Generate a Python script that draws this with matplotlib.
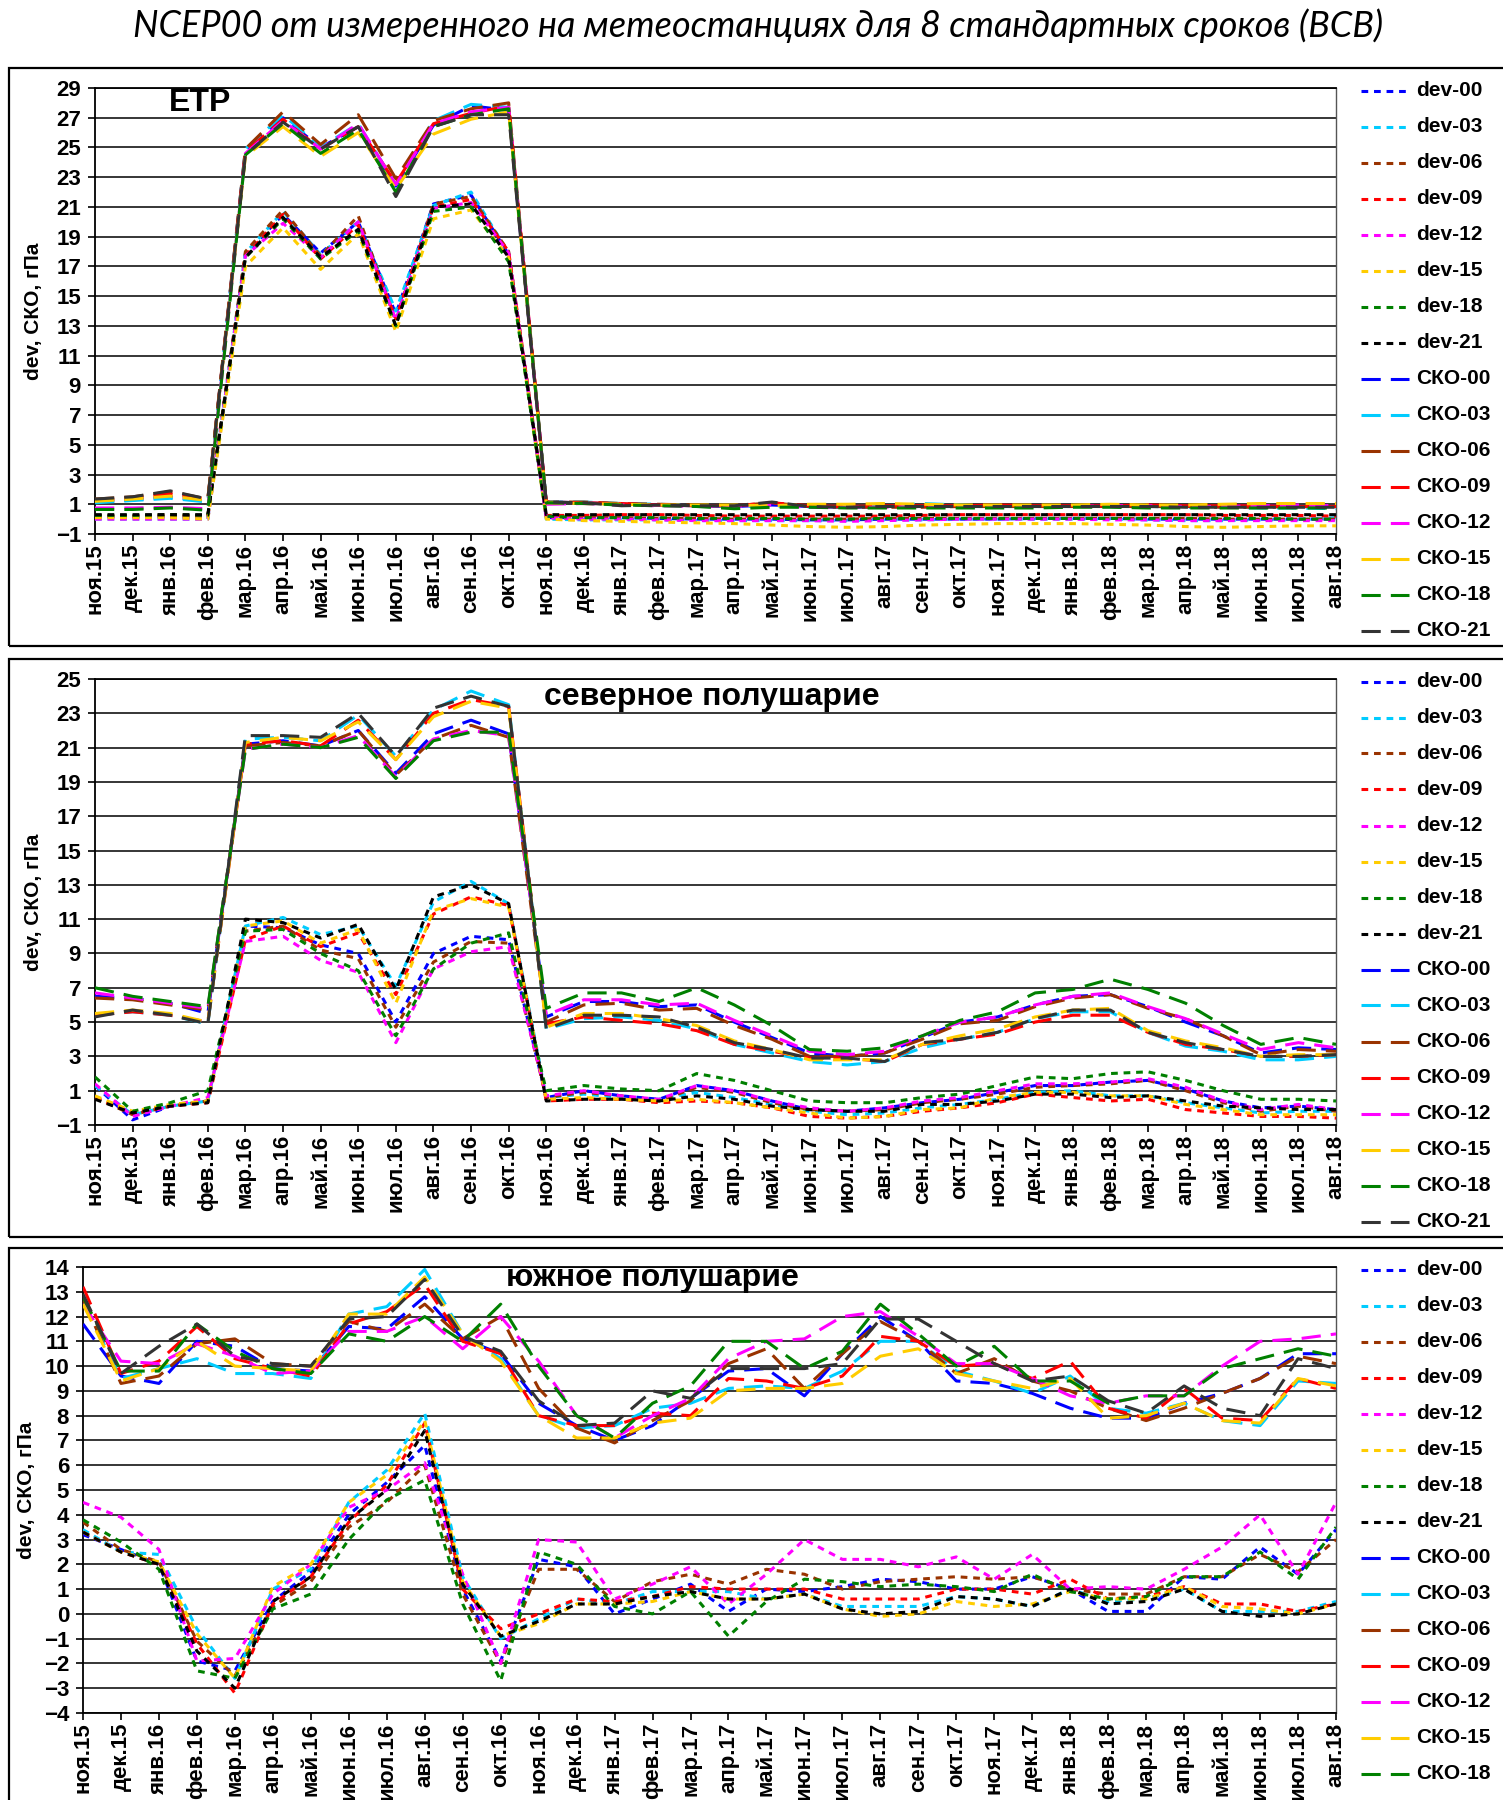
import matplotlib
matplotlib.use("Agg")
import matplotlib.pyplot as plt
from matplotlib.lines import Line2D
from matplotlib.patches import Rectangle

# ---------------- data ----------------
x_labels = ['ноя.15', 'дек.15', 'янв.16', 'фев.16', 'мар.16', 'апр.16', 'май.16', 'июн.16',
            'июл.16', 'авг.16', 'сен.16', 'окт.16', 'ноя.16', 'дек.16', 'янв.17', 'фев.17',
            'мар.17', 'апр.17', 'май.17', 'июн.17', 'июл.17', 'авг.17', 'сен.17', 'окт.17',
            'ноя.17', 'дек.17', 'янв.18', 'фев.18', 'мар.18', 'апр.18', 'май.18', 'июн.18',
            'июл.18', 'авг.18']

series_names = ['dev-00', 'dev-03', 'dev-06', 'dev-09', 'dev-12', 'dev-15', 'dev-18', 'dev-21',
                'СКО-00', 'СКО-03', 'СКО-06', 'СКО-09', 'СКО-12', 'СКО-15', 'СКО-18', 'СКО-21']
series_colors = ['#0000FF', '#00CCFF', '#993300', '#FF0000', '#FF00FF', '#FFCC00', '#008000', '#000000',
                 '#0000FF', '#00CCFF', '#993300', '#FF0000', '#FF00FF', '#FFCC00', '#008000', '#333333']

panel_titles = ['ЕТР', 'северное полушарие', 'южное полушарие']

# ETR
etr_dev_00 = [0.15, 0.15, 0.15, 0.1, 17.8, 20.5, 17.9, 20.0, 13.8, 21.2, 21.8, 17.8, 0.1, 0.1, 0.1, 0.05, 0.0, 0.0, 0.0, -0.05, -0.05, 0.0, 0.0, 0.0, 0.0, 0.05, 0.05, 0.05, 0.0, 0.0, 0.0, 0.0, 0.0, 0.0]
etr_dev_03 = [0.0, 0.0, 0.0, 0.0, 17.9, 20.7, 17.8, 20.0, 14.0, 21.1, 22.0, 17.9, 0.0, -0.05, -0.05, -0.05, -0.1, -0.1, -0.1, -0.1, -0.1, -0.05, -0.05, 0.0, 0.0, 0.0, 0.0, 0.0, -0.05, -0.1, -0.1, -0.05, -0.05, 0.1]
etr_dev_06 = [0.2, 0.2, 0.2, 0.2, 18.0, 20.8, 17.7, 20.4, 13.3, 21.2, 21.7, 18.0, 0.1, 0.1, 0.1, 0.05, 0.05, 0.0, 0.0, 0.0, 0.0, 0.05, 0.05, 0.05, 0.05, 0.05, 0.05, 0.05, 0.05, 0.05, 0.0, 0.0, 0.0, 0.0]
etr_dev_09 = [0.2, 0.2, 0.3, 0.2, 17.7, 20.5, 17.5, 19.8, 13.5, 21.0, 21.5, 18.0, 0.25, 0.25, 0.3, 0.3, 0.25, 0.2, 0.2, 0.2, 0.2, 0.2, 0.25, 0.3, 0.3, 0.3, 0.3, 0.3, 0.3, 0.3, 0.25, 0.25, 0.25, 0.2]
etr_dev_12 = [0.0, 0.0, 0.0, 0.0, 17.7, 19.9, 17.6, 20.0, 13.4, 20.9, 21.3, 17.9, 0.1, 0.0, 0.0, -0.05, -0.1, -0.1, -0.1, -0.1, -0.15, -0.1, -0.05, 0.0, 0.0, 0.0, 0.0, -0.05, -0.05, -0.1, -0.1, -0.1, -0.1, -0.1]
etr_dev_15 = [0.1, 0.1, 0.1, 0.0, 17.0, 19.6, 16.8, 19.2, 12.6, 20.2, 20.8, 17.6, 0.0, -0.1, -0.15, -0.2, -0.25, -0.3, -0.4, -0.5, -0.55, -0.5, -0.4, -0.35, -0.3, -0.3, -0.3, -0.35, -0.4, -0.5, -0.55, -0.5, -0.45, -0.45]
etr_dev_18 = [0.25, 0.25, 0.3, 0.25, 17.6, 20.2, 17.5, 19.4, 13.0, 20.7, 21.0, 17.3, 0.2, 0.1, 0.1, 0.1, 0.05, 0.05, 0.05, 0.0, 0.0, 0.05, 0.05, 0.05, 0.05, 0.05, 0.05, 0.05, 0.05, 0.05, 0.05, 0.05, 0.0, 0.0]
etr_dev_21 = [0.3, 0.3, 0.3, 0.3, 17.6, 20.3, 17.6, 19.5, 13.0, 21.0, 21.2, 17.6, 0.3, 0.3, 0.3, 0.3, 0.3, 0.3, 0.3, 0.3, 0.3, 0.3, 0.3, 0.3, 0.3, 0.3, 0.3, 0.3, 0.3, 0.3, 0.3, 0.3, 0.3, 0.3]
etr_sko_00 = [1.15, 1.3, 1.5, 1.2, 24.8, 27.0, 25.0, 26.4, 22.4, 26.5, 27.8, 27.5, 1.15, 1.1, 1.0, 0.95, 0.9, 0.85, 0.95, 0.85, 0.8, 0.85, 0.85, 0.85, 0.85, 0.85, 0.85, 0.9, 0.85, 0.85, 0.85, 0.9, 0.85, 0.85]
etr_sko_03 = [1.1, 1.25, 1.4, 1.15, 24.9, 27.2, 25.0, 26.6, 22.5, 26.8, 27.9, 27.7, 1.15, 1.15, 1.05, 1.0, 0.9, 0.85, 0.9, 0.8, 0.8, 0.85, 1.05, 0.95, 0.85, 0.85, 0.85, 0.85, 0.85, 0.8, 0.8, 0.75, 0.75, 0.7]
etr_sko_06 = [1.35, 1.5, 1.85, 1.35, 24.9, 27.4, 25.2, 27.2, 22.9, 26.8, 27.6, 28.0, 1.15, 1.15, 1.05, 1.0, 0.95, 0.9, 1.1, 0.85, 0.8, 0.8, 0.8, 0.85, 0.85, 0.85, 0.85, 0.85, 0.85, 0.85, 0.8, 0.8, 0.85, 0.85]
etr_sko_09 = [1.25, 1.4, 1.7, 1.3, 24.7, 26.9, 24.9, 26.4, 22.6, 26.6, 27.3, 27.8, 1.15, 1.1, 1.05, 0.95, 0.9, 0.9, 1.1, 0.9, 0.85, 0.9, 0.9, 0.9, 0.95, 0.9, 0.9, 0.9, 0.95, 0.9, 0.9, 0.9, 0.85, 0.85]
etr_sko_12 = [0.75, 0.75, 0.8, 0.7, 24.6, 26.8, 24.9, 26.6, 22.5, 26.6, 27.4, 27.7, 1.0, 1.05, 0.95, 0.9, 0.85, 0.85, 0.95, 0.8, 0.8, 0.8, 0.85, 0.85, 0.85, 0.85, 0.85, 0.9, 0.9, 0.85, 0.85, 0.9, 0.95, 0.9]
etr_sko_15 = [1.2, 1.35, 1.55, 1.25, 24.4, 26.4, 24.4, 26.0, 22.2, 25.9, 26.9, 27.4, 1.1, 1.05, 1.0, 0.95, 0.95, 0.95, 0.9, 1.0, 1.0, 1.05, 1.0, 0.95, 0.95, 0.95, 0.95, 1.0, 0.95, 0.95, 1.0, 1.05, 1.05, 1.05]
etr_sko_18 = [0.65, 0.65, 0.75, 0.6, 24.5, 26.6, 24.6, 26.2, 22.0, 26.4, 27.2, 27.6, 1.1, 1.05, 0.95, 0.9, 0.85, 0.7, 0.8, 0.8, 0.75, 0.75, 0.75, 0.75, 0.75, 0.75, 0.8, 0.8, 0.75, 0.75, 0.75, 0.75, 0.75, 0.75]
etr_sko_21 = [1.35, 1.5, 1.9, 1.35, 24.5, 26.7, 24.9, 26.4, 21.7, 26.4, 27.2, 27.2, 1.15, 1.1, 0.9, 0.95, 0.9, 0.9, 1.15, 0.85, 0.8, 0.85, 0.85, 0.85, 0.85, 0.85, 0.85, 0.85, 0.85, 0.8, 0.8, 0.8, 0.8, 0.8]

# northern hemisphere
nh_dev_00 = [1.3, -0.7, 0.1, 0.4, 10.6, 10.5, 9.5, 9.0, 5.0, 9.0, 10.0, 9.8, 0.6, 1.0, 0.7, 0.5, 1.3, 1.0, 0.4, -0.1, -0.2, 0.0, 0.3, 0.5, 0.9, 1.3, 1.3, 1.5, 1.6, 1.1, 0.4, 0.0, 0.1, -0.1]
nh_dev_03 = [1.3, -0.4, 0.1, 0.4, 10.6, 11.1, 10.1, 10.6, 7.1, 12.0, 13.2, 11.9, 0.6, 0.8, 0.6, 0.5, 0.9, 0.6, 0.2, -0.2, -0.4, -0.3, 0.0, 0.2, 0.5, 0.9, 1.0, 0.7, 0.7, 0.3, 0.0, -0.3, -0.2, -0.2]
nh_dev_06 = [0.6, -0.4, 0.1, 0.4, 10.3, 10.6, 9.2, 8.7, 4.7, 8.5, 9.7, 9.6, 0.6, 0.9, 0.7, 0.4, 1.2, 0.9, 0.3, -0.1, -0.2, -0.1, 0.3, 0.5, 0.8, 1.2, 1.3, 1.4, 1.6, 1.0, 0.3, -0.2, 0.1, -0.2]
nh_dev_09 = [0.6, -0.3, 0.1, 0.3, 9.8, 10.6, 9.4, 10.2, 6.6, 11.3, 12.3, 11.8, 0.4, 0.5, 0.5, 0.3, 0.4, 0.3, 0.0, -0.5, -0.6, -0.5, -0.2, 0.0, 0.3, 0.8, 0.6, 0.4, 0.5, -0.1, -0.3, -0.5, -0.5, -0.6]
nh_dev_12 = [1.4, -0.5, 0.1, 0.6, 9.7, 10.0, 8.6, 7.9, 3.8, 8.1, 9.1, 9.4, 0.7, 1.0, 0.7, 0.5, 1.3, 1.0, 0.4, 0.0, -0.2, 0.0, 0.4, 0.6, 1.0, 1.4, 1.4, 1.5, 1.7, 1.2, 0.4, -0.1, 0.2, -0.1]
nh_dev_15 = [0.7, -0.2, 0.2, 0.4, 10.6, 10.9, 9.6, 10.4, 6.1, 11.5, 12.2, 11.7, 0.5, 0.6, 0.5, 0.4, 0.5, 0.3, 0.0, -0.3, -0.6, -0.5, -0.1, 0.0, 0.6, 0.9, 0.9, 0.7, 0.7, 0.2, -0.1, -0.4, -0.4, -0.4]
nh_dev_18 = [1.8, -0.2, 0.3, 1.0, 10.3, 10.4, 9.0, 8.0, 4.2, 8.1, 9.6, 10.2, 1.0, 1.3, 1.1, 1.0, 2.0, 1.6, 1.0, 0.4, 0.3, 0.3, 0.6, 0.8, 1.3, 1.8, 1.7, 2.0, 2.1, 1.6, 1.0, 0.5, 0.5, 0.4]
nh_dev_21 = [0.5, -0.3, 0.1, 0.3, 11.0, 10.8, 9.9, 10.7, 6.9, 12.3, 13.0, 11.9, 0.4, 0.5, 0.5, 0.4, 0.7, 0.5, 0.1, -0.1, -0.2, -0.2, 0.2, 0.2, 0.4, 0.8, 0.8, 0.6, 0.7, 0.4, 0.1, 0.0, -0.1, -0.1]
nh_sko_00 = [6.5, 6.4, 6.1, 5.5, 21.2, 21.4, 21.1, 22.0, 19.5, 21.8, 22.6, 21.8, 5.3, 6.2, 6.2, 5.9, 6.0, 5.0, 4.1, 3.2, 3.0, 3.2, 4.1, 5.0, 5.3, 6.0, 6.5, 6.6, 5.9, 5.0, 4.2, 3.2, 3.5, 3.4]
nh_sko_03 = [5.4, 5.6, 5.4, 4.9, 21.5, 21.6, 21.4, 22.9, 20.5, 23.2, 24.3, 23.5, 4.6, 5.2, 5.3, 5.1, 4.6, 3.7, 3.2, 2.7, 2.5, 2.7, 3.5, 4.0, 4.4, 5.2, 5.6, 5.6, 4.4, 3.6, 3.3, 2.8, 2.8, 3.0]
nh_sko_06 = [6.4, 6.3, 6.0, 5.7, 21.1, 21.3, 21.1, 22.0, 19.4, 21.5, 22.3, 21.6, 5.0, 6.0, 6.1, 5.7, 5.8, 4.8, 4.0, 3.0, 3.0, 3.2, 4.0, 4.9, 5.1, 5.9, 6.4, 6.6, 5.8, 5.2, 4.2, 3.1, 3.4, 3.3]
nh_sko_09 = [5.4, 5.6, 5.4, 5.0, 21.2, 21.4, 21.1, 22.6, 20.3, 23.0, 23.8, 23.4, 4.9, 5.3, 5.1, 4.9, 4.5, 3.7, 3.3, 2.9, 2.9, 2.7, 3.7, 4.0, 4.3, 5.0, 5.4, 5.4, 4.4, 3.7, 3.4, 3.0, 3.0, 3.1]
nh_sko_12 = [6.7, 6.4, 6.1, 5.8, 20.9, 21.2, 21.0, 21.7, 19.3, 21.5, 22.0, 21.7, 5.4, 6.3, 6.3, 6.0, 6.1, 5.1, 4.2, 3.3, 3.1, 3.3, 4.2, 5.0, 5.3, 6.0, 6.5, 6.7, 5.9, 5.2, 4.3, 3.4, 3.8, 3.5]
nh_sko_15 = [5.5, 5.7, 5.5, 5.0, 21.3, 21.6, 21.4, 22.5, 20.3, 22.8, 23.7, 23.3, 4.7, 5.5, 5.5, 5.2, 4.8, 3.9, 3.4, 2.8, 2.8, 2.8, 3.7, 4.2, 4.6, 5.3, 5.7, 5.8, 4.5, 3.9, 3.5, 3.0, 3.1, 3.1]
nh_sko_18 = [7.0, 6.5, 6.2, 5.9, 20.9, 21.2, 21.0, 21.6, 19.2, 21.4, 21.9, 21.9, 5.8, 6.7, 6.7, 6.2, 7.0, 6.0, 4.8, 3.4, 3.3, 3.5, 4.2, 5.1, 5.6, 6.7, 6.9, 7.5, 6.9, 6.1, 4.8, 3.7, 4.1, 3.7]
nh_sko_21 = [5.3, 5.7, 5.4, 4.9, 21.7, 21.7, 21.6, 23.0, 20.5, 23.3, 24.0, 23.4, 4.6, 5.4, 5.4, 5.3, 4.7, 3.8, 3.4, 2.9, 2.9, 2.7, 3.8, 4.0, 4.4, 5.2, 5.7, 5.7, 4.4, 3.8, 3.4, 3.0, 3.0, 3.1]

# southern hemisphere
sh_dev_00 = [3.2, 2.6, 2.0, -1.9, -2.3, 0.5, 1.7, 4.0, 5.3, 6.8, 1.0, -1.9, 2.2, 1.9, 0.0, 0.6, 1.2, 0.1, 1.0, 0.9, 1.1, 1.4, 1.3, 1.0, 1.0, 1.5, 1.0, 0.1, 0.1, 1.5, 1.4, 2.7, 1.6, 3.4]
sh_dev_03 = [3.4, 2.5, 2.4, -0.6, -2.6, 1.0, 1.8, 4.5, 5.8, 8.1, 1.5, -1.0, -0.2, 0.6, 0.4, 0.9, 0.9, 0.9, 0.6, 0.8, 0.3, 0.3, 0.3, 0.7, 0.6, 0.3, 1.0, 0.5, 0.6, 1.0, 0.1, 0.1, 0.1, 0.5]
sh_dev_06 = [3.7, 2.6, 2.1, -1.1, -2.5, 0.3, 1.3, 3.5, 4.5, 6.0, 0.8, -2.0, 1.8, 1.8, 0.5, 1.3, 1.6, 1.2, 1.8, 1.6, 1.0, 1.3, 1.4, 1.5, 1.4, 1.5, 1.0, 0.8, 0.8, 1.5, 1.5, 2.4, 1.7, 3.0]
sh_dev_09 = [3.3, 2.5, 2.0, -1.2, -3.2, 0.4, 1.5, 3.7, 5.2, 7.7, 1.0, -0.6, 0.0, 0.6, 0.5, 0.7, 1.1, 1.0, 1.0, 1.0, 0.6, 0.6, 0.6, 1.0, 1.0, 0.8, 1.4, 0.6, 0.7, 1.1, 0.4, 0.4, 0.1, 0.4]
sh_dev_12 = [4.5, 3.9, 2.6, -1.9, -1.8, 0.8, 2.0, 4.3, 5.0, 6.1, 1.6, -2.0, 3.0, 2.9, 0.6, 1.2, 1.9, 0.4, 1.6, 3.0, 2.2, 2.2, 1.9, 2.3, 1.4, 2.4, 1.0, 1.1, 1.0, 1.8, 2.7, 4.0, 1.6, 4.5]
sh_dev_15 = [3.3, 2.5, 2.1, -0.8, -2.6, 1.1, 2.0, 4.5, 5.6, 7.8, 1.3, -0.9, -0.4, 0.4, 0.4, 0.5, 0.9, 0.6, 0.6, 0.8, 0.2, -0.1, 0.0, 0.5, 0.3, 0.4, 0.9, 0.6, 0.6, 1.1, 0.3, 0.2, 0.0, 0.4]
sh_dev_18 = [3.8, 2.9, 1.8, -2.3, -2.6, 0.2, 0.8, 3.0, 4.6, 5.4, 0.4, -2.7, 2.5, 2.0, 0.3, 0.0, 0.9, -0.9, 0.5, 1.4, 1.3, 1.1, 1.2, 1.1, 0.9, 1.6, 0.9, 0.6, 0.7, 1.5, 1.5, 2.5, 1.4, 3.5]
sh_dev_21 = [3.3, 2.5, 2.0, -1.5, -3.0, 0.5, 1.5, 3.8, 5.0, 7.4, 1.2, -0.9, -0.3, 0.4, 0.4, 0.7, 0.9, 0.6, 0.6, 0.8, 0.2, 0.0, 0.1, 0.7, 0.6, 0.3, 1.0, 0.4, 0.5, 1.0, 0.1, -0.1, 0.0, 0.4]
sh_sko_00 = [11.7, 9.6, 9.3, 11.0, 10.8, 9.9, 9.8, 11.6, 11.5, 12.8, 11.1, 10.5, 8.5, 7.6, 7.0, 7.6, 8.7, 9.8, 9.9, 8.8, 10.5, 12.0, 11.0, 9.4, 9.3, 8.9, 8.3, 7.9, 7.9, 8.5, 8.9, 9.5, 10.5, 10.5]
sh_sko_03 = [12.6, 9.5, 9.9, 10.3, 9.7, 9.7, 9.5, 12.1, 12.4, 13.9, 11.3, 10.3, 8.0, 7.5, 7.6, 8.3, 8.5, 9.1, 9.2, 9.1, 9.8, 11.0, 11.0, 9.8, 9.4, 8.9, 9.6, 8.3, 8.1, 8.5, 7.8, 7.6, 9.4, 9.3]
sh_sko_06 = [12.7, 9.3, 9.6, 10.9, 11.1, 10.1, 10.0, 11.8, 11.4, 12.5, 11.1, 12.0, 9.1, 7.5, 6.9, 7.8, 8.6, 10.1, 10.7, 9.1, 10.5, 11.8, 11.0, 9.7, 10.3, 9.4, 9.0, 8.3, 7.8, 8.3, 8.9, 9.5, 10.4, 10.1]
sh_sko_09 = [13.2, 9.7, 10.2, 11.6, 10.3, 9.9, 9.6, 11.7, 12.2, 13.3, 11.0, 10.5, 8.0, 7.6, 7.6, 8.1, 8.0, 9.5, 9.4, 9.1, 9.6, 11.2, 11.0, 10.0, 10.1, 9.5, 10.2, 8.3, 7.9, 9.1, 7.9, 7.8, 9.5, 9.1]
sh_sko_12 = [12.5, 10.2, 10.1, 10.9, 10.4, 9.7, 9.8, 11.4, 11.4, 12.0, 10.7, 12.0, 10.2, 8.0, 7.1, 8.0, 8.7, 10.3, 11.0, 11.1, 12.0, 12.2, 11.2, 10.1, 10.1, 9.5, 8.8, 8.5, 8.8, 8.8, 10.0, 11.0, 11.1, 11.3]
sh_sko_15 = [12.5, 9.4, 9.9, 11.0, 10.0, 9.9, 9.8, 12.1, 12.1, 13.6, 11.3, 10.2, 8.0, 7.1, 7.1, 7.7, 7.9, 9.0, 9.1, 9.1, 9.3, 10.4, 10.7, 9.7, 9.4, 9.1, 9.5, 7.9, 8.0, 8.5, 7.8, 7.7, 9.5, 9.2]
sh_sko_18 = [12.8, 9.8, 9.8, 11.7, 10.6, 9.9, 9.7, 11.3, 11.0, 12.0, 11.0, 12.5, 10.0, 8.0, 7.1, 8.5, 9.2, 11.0, 11.0, 9.9, 10.6, 12.5, 11.3, 10.0, 10.8, 9.4, 9.4, 8.5, 8.8, 8.8, 9.9, 10.3, 10.7, 10.4]
sh_sko_21 = [12.9, 9.7, 10.8, 11.7, 10.4, 10.1, 10.0, 11.9, 12.0, 13.5, 11.2, 10.6, 8.6, 7.6, 7.7, 9.0, 8.7, 9.9, 9.9, 9.9, 10.1, 11.9, 11.9, 11.0, 10.1, 9.4, 9.6, 8.6, 8.1, 9.2, 8.3, 8.0, 10.3, 9.9]

etr_series = [etr_dev_00, etr_dev_03, etr_dev_06, etr_dev_09, etr_dev_12, etr_dev_15, etr_dev_18, etr_dev_21,
              etr_sko_00, etr_sko_03, etr_sko_06, etr_sko_09, etr_sko_12, etr_sko_15, etr_sko_18, etr_sko_21]
nh_series = [nh_dev_00, nh_dev_03, nh_dev_06, nh_dev_09, nh_dev_12, nh_dev_15, nh_dev_18, nh_dev_21,
             nh_sko_00, nh_sko_03, nh_sko_06, nh_sko_09, nh_sko_12, nh_sko_15, nh_sko_18, nh_sko_21]
sh_series = [sh_dev_00, sh_dev_03, sh_dev_06, sh_dev_09, sh_dev_12, sh_dev_15, sh_dev_18, sh_dev_21,
             sh_sko_00, sh_sko_03, sh_sko_06, sh_sko_09, sh_sko_12, sh_sko_15, sh_sko_18, sh_sko_21]

# ---------------- figure ----------------
W, H = 1503, 1800
DPI = 100
fig = plt.figure(figsize=(W / DPI, H / DPI), dpi=DPI)
fig.patch.set_facecolor('white')

FONT = 'Liberation Sans'
LW = 2.2
DEV_DASH = (0, (2.2, 1.9))
SKO_DASH = (0, (6.3, 3.3))


def fx(px):
    return px / W


def fy(py):
    return 1 - py / H


# panel frames (x0, y_top, y_bottom)
frames = [(9, 68, 646), (9, 659, 1237), (9, 1248, 1830)]
for (x0, yt, yb) in frames:
    fig.patches.append(Rectangle((fx(x0), fy(yb)), fx(1520 - x0), (yb - yt) / H,
                                 transform=fig.transFigure, fill=False,
                                 edgecolor='black', linewidth=1.6, zorder=0))

# axes geometry (left, top, right, bottom) in px
axes_px = [(95, 88, 1336, 534), (95, 679, 1336, 1125), (83, 1267, 1336, 1713)]
ylims = [(-1, 29), (-1, 25), (-4, 14)]
ysteps = [2, 2, 1]
ylabel_x = [43, 43, 36]   # right edge of the rotated label (px)
title_pos = [(200, 103), (712, 697), (652, 1278)]
all_series = [etr_series, nh_series, sh_series]

x_idx = list(range(len(x_labels)))

for p in range(3):
    l, t, r, b = axes_px[p]
    ax = fig.add_axes([fx(l), fy(b), (r - l) / W, (b - t) / H])
    for k, vals in enumerate(all_series[p]):
        ax.plot(x_idx, vals, color=series_colors[k], lw=LW,
                linestyle=DEV_DASH if k < 8 else SKO_DASH,
                dash_capstyle='butt', zorder=3 + k * 0.01)
    lo, hi = ylims[p]
    ax.set_ylim(lo, hi)
    ax.set_xlim(0, len(x_labels) - 1)
    ax.set_yticks(list(range(lo, hi + 1, ysteps[p])))
    ax.set_xticks(x_idx)
    ax.set_xticklabels(x_labels, rotation=90, fontfamily=FONT, fontweight='bold', fontsize=16)
    for lab in ax.get_yticklabels():
        lab.set_fontfamily(FONT)
        lab.set_fontweight('bold')
        lab.set_fontsize(16)
    ax.tick_params(axis='y', direction='out', length=5, width=1.2, pad=5)
    ax.tick_params(axis='x', direction='out', length=5, width=1.2, pad=2)
    ax.grid(axis='y', color='black', linewidth=1.1)
    ax.set_axisbelow(True)
    for side in ['left', 'bottom', 'top']:
        ax.spines[side].set_color('black')
        ax.spines[side].set_linewidth(1.3)
    ax.spines['right'].set_color('#555555')
    ax.spines['right'].set_linewidth(1.0)
    ax.set_ylabel('dev, СКО, гПа', fontfamily=FONT, fontweight='bold', fontsize=15)
    ax.yaxis.set_label_coords((ylabel_x[p] - l) / (r - l), 0.5)

    # panel title
    tx, ty = title_pos[p]
    fig.text(fx(tx), fy(ty), panel_titles[p], ha='center', va='center',
             fontfamily=FONT, fontweight='bold', fontsize=23)

    # legend (manual, matches reference placement)
    for k, name in enumerate(series_names):
        yy = t + 2.5 + 36 * k
        if yy > H - 8:
            continue
        fig.lines.append(Line2D([fx(1361), fx(1409)], [fy(yy), fy(yy)],
                                transform=fig.transFigure, color=series_colors[k], lw=LW,
                                linestyle=DEV_DASH if k < 8 else SKO_DASH,
                                dash_capstyle='butt'))
        fig.text(fx(1416), fy(yy), name, ha='left', va='center',
                 fontfamily=FONT, fontweight='bold', fontsize=15)

# main title, fitted to reference width
title = fig.text(fx(758), fy(26), 'NCEP00 от измеренного на метеостанциях для 8 стандартных сроков (ВСВ)',
                 ha='center', va='center', fontfamily=['Lato', 'DejaVu Sans'], fontstyle='italic',
                 fontsize=24)
renderer = fig.canvas.get_renderer()
w = title.get_window_extent(renderer).width
title.set_fontsize(24 * 1252 / w)

fig.savefig('out.png', dpi=DPI, facecolor='white')
